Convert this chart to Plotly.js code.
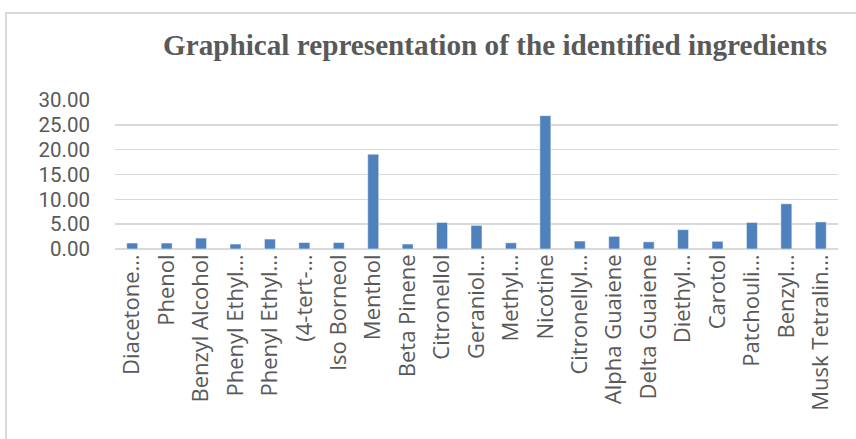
<!DOCTYPE html>
<html>
<head>
<meta charset="utf-8">
<script src="https://cdn.plot.ly/plotly-3.0.1.min.js"></script>
<style>
  html, body { margin: 0; padding: 0; background: #fff; }
  #wrap { position: relative; width: 856px; height: 439px; overflow: hidden; }
  #chart { width: 856px; height: 439px; }
  #frame { position: absolute; left: 5px; top: 12px; width: 900px; height: 500px;
           border-left: 2px solid #D9D9D9; border-top: 2px solid #D9D9D9; pointer-events: none; }
</style>
</head>
<body>
<div id="wrap">
  <div id="chart"></div>
  <div id="frame"></div>
</div>
<script>
const categories = [
  "Diacetone…", "Phenol", "Benzyl Alcohol", "Phenyl Ethyl…", "Phenyl Ethyl…",
  "(4-tert-…", "Iso Borneol", "Menthol", "Beta Pinene", "Citronellol",
  "Geraniol…", "Methyl…", "Nicotine", "Citronellyl…", "Alpha Guaiene",
  "Delta Guaiene", "Diethyl…", "Carotol", "Patchouli…", "Benzyl…", "Musk Tetralin…"
];
const values = [
  1.2, 1.2, 2.2, 1.0, 2.0,
  1.3, 1.3, 19.1, 1.0, 5.35,
  4.75, 1.25, 26.85, 1.6, 2.55,
  1.45, 3.9, 1.55, 5.35, 9.1, 5.45
];
const yTicks = [0, 5, 10, 15, 20, 25, 30];
const yTickLabels = ["0.00", "5.00", "10.00", "15.00", "20.00", "25.00", "30.00"];
const titleText = "Graphical representation of the identified ingredients";

// unique x positions so duplicate labels stay separate bars
const xIdx = categories.map((_, i) => i);

const trace = {
  type: "bar",
  x: xIdx,
  y: values,
  marker: { color: "#4F81BD", line: { color: "#FFFFFF", width: 0.5 } },
  hoverinfo: "skip"
};

const layout = {
  width: 856,
  height: 439,
  paper_bgcolor: "#FFFFFF",
  plot_bgcolor: "#FFFFFF",
  margin: { l: 115, r: 18, t: 99.5, b: 190, pad: 0 },
  bargap: 0.68,
  showlegend: false,
  title: {
    text: "<b>" + titleText + "</b>",
    font: { family: "Liberation Serif, Times New Roman, serif", size: 29.2, color: "#595959" },
    x: 0.5256, xanchor: "center", xref: "paper",
    y: 0.898, yanchor: "middle", yref: "container"
  },
  xaxis: {
    tickmode: "array",
    tickvals: xIdx,
    ticktext: categories,
    tickangle: -90,
    range: [-0.5, categories.length - 0.5],
    showgrid: false,
    zeroline: false,
    showline: false,
    ticks: "",
    ticklen: 0,
    tickfont: { family: "Open Sans, Noto Sans, sans-serif", size: 22, color: "#595959" },
    automargin: false
  },
  yaxis: {
    range: [0, 30],
    tickmode: "array",
    tickvals: yTicks,
    ticktext: yTickLabels,
    showgrid: true,
    gridcolor: "#D9D9D9",
    gridwidth: 1.5,
    zeroline: true,
    zerolinecolor: "#D9D9D9",
    zerolinewidth: 1.5,
    showline: false,
    ticks: "",
    ticklabelstandoff: 24,
    tickfont: { family: "Roboto, Open Sans, sans-serif", size: 20.5, color: "#595959" },
    automargin: false
  }
};

Plotly.newPlot("chart", [trace], layout, { staticPlot: true, displayModeBar: false });
</script>
</body>
</html>
